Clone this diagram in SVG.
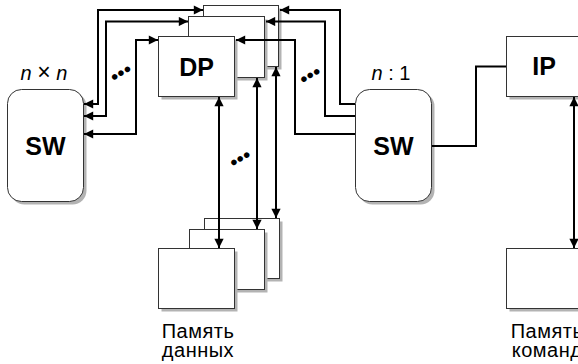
<svg xmlns="http://www.w3.org/2000/svg" width="578" height="364" viewBox="0 0 578 364">
  <style>
    .box { fill: #ffffff; stroke: #333333; stroke-width: 1; }
    .shadow { fill: #b3b3b3; }
    .wire { fill: none; stroke: #000000; stroke-width: 2; }
    .lbl { font-family: "Liberation Sans", Arial, sans-serif; fill: #000000; }
    .big { font-size: 25px; font-weight: bold; text-anchor: middle; }
    .cap { font-size: 20px; letter-spacing: 0.5px; text-anchor: middle; }
    .note { font-size: 20px; text-anchor: middle; }
    .dots { font-size: 21px; text-anchor: middle; }
  </style>
  <defs>
    <marker id="head" viewBox="0 0 10 10" refX="10" refY="5" markerWidth="5" markerHeight="4.6" orient="auto-start-reverse" markerUnits="strokeWidth">
      <path d="M0,0 L10,5 L0,10 Z" fill="#000000"/>
    </marker>
  </defs>

  <!-- crossbar switch n x n -->
  <g id="sw-left">
    <rect class="shadow" x="10.5" y="92.5" width="76" height="112" rx="14"/>
    <rect class="box" x="7.5" y="89.5" width="76" height="112" rx="14"/>
    <text class="lbl big" x="45.5" y="155">SW</text>
    <text class="lbl note" x="44" y="80"><tspan font-style="italic">n</tspan> <tspan font-size="23px">×</tspan> <tspan font-style="italic">n</tspan></text>
  </g>

  <!-- data processors -->
  <g id="dp-3">
    <rect class="shadow" x="206.5" y="8.5" width="75" height="61"/>
    <rect class="box" x="203.5" y="5.5" width="75" height="61"/>
  </g>
  <g id="dp-2">
    <rect class="shadow" x="191.5" y="19.5" width="76" height="61"/>
    <rect class="box" x="188.5" y="16.5" width="76" height="61"/>
  </g>
  <g id="dp-1">
    <rect class="shadow" x="161.5" y="39.5" width="76" height="60"/>
    <rect class="box" x="158.5" y="36.5" width="76" height="60"/>
    <text class="lbl big" x="196.5" y="76">DP</text>
  </g>

  <!-- data memory banks -->
  <g id="dm-3">
    <rect class="shadow" x="207.5" y="221.5" width="75" height="60"/>
    <rect class="box" x="204.5" y="218.5" width="75" height="60"/>
  </g>
  <g id="dm-2">
    <rect class="shadow" x="192.5" y="232.5" width="75" height="60"/>
    <rect class="box" x="189.5" y="229.5" width="75" height="60"/>
  </g>
  <g id="dm-1">
    <rect class="shadow" x="161.5" y="251.5" width="76" height="60"/>
    <rect class="box" x="158.5" y="248.5" width="76" height="60"/>
    <text class="lbl cap"><tspan x="198" y="338">Память</tspan><tspan x="198" y="357">данных</tspan></text>
  </g>

  <!-- switch n : 1 -->
  <g id="sw-right">
    <rect class="shadow" x="358.5" y="92.5" width="76" height="112" rx="14"/>
    <rect class="box" x="355.5" y="89.5" width="76" height="112" rx="14"/>
    <text class="lbl big" x="393.5" y="155">SW</text>
    <text class="lbl note" x="391" y="80"><tspan font-style="italic">n</tspan> : 1</text>
  </g>

  <!-- instruction processor -->
  <g id="ip">
    <rect class="shadow" x="509.5" y="39.5" width="80" height="60"/>
    <rect class="box" x="506.5" y="36.5" width="80" height="60"/>
    <text class="lbl big" x="544" y="75">IP</text>
  </g>

  <!-- instruction memory -->
  <g id="im">
    <rect class="shadow" x="509.5" y="251.5" width="80" height="60"/>
    <rect class="box" x="506.5" y="248.5" width="80" height="60"/>
    <text class="lbl cap"><tspan x="547" y="338">Память</tspan><tspan x="547" y="357">команд</tspan></text>
  </g>

  <g id="connectors">
    <!-- DP <-> crossbar -->
    <path class="wire" d="M203,10 H98 V104 H84" marker-start="url(#head)" marker-end="url(#head)"/>
    <path class="wire" d="M188,21.5 H106 V116 H84" marker-start="url(#head)" marker-end="url(#head)"/>
    <path class="wire" d="M158,40 H136 V134 H84" marker-start="url(#head)" marker-end="url(#head)"/>
    <!-- n:1 switch -> DP -->
    <path class="wire" d="M355,104 H340 V10 H280" marker-end="url(#head)"/>
    <path class="wire" d="M355,116 H325 V21.5 H266" marker-end="url(#head)"/>
    <path class="wire" d="M355,134 H295 V40 H236" marker-end="url(#head)"/>
    <!-- DP <-> data memory -->
    <path class="wire" d="M219,97 V248" marker-start="url(#head)" marker-end="url(#head)"/>
    <path class="wire" d="M257,78 V229" marker-start="url(#head)" marker-end="url(#head)"/>
    <path class="wire" d="M276,67 V218" marker-start="url(#head)" marker-end="url(#head)"/>
    <!-- switch to IP -->
    <path class="wire" d="M432,146 H476 V66.5 H506"/>
    <!-- IP <-> instruction memory -->
    <path class="wire" d="M574,97 V248" marker-start="url(#head)" marker-end="url(#head)"/>
    <!-- ellipsis marks -->
    <text class="lbl dots" transform="translate(120.7,72.7) rotate(-30)" y="7.5">•••</text>
    <text class="lbl dots" transform="translate(240,158.3) rotate(-30)" y="7.5">•••</text>
    <text class="lbl dots" transform="translate(310,75) rotate(-30)" y="7.5">•••</text>
  </g>
</svg>
